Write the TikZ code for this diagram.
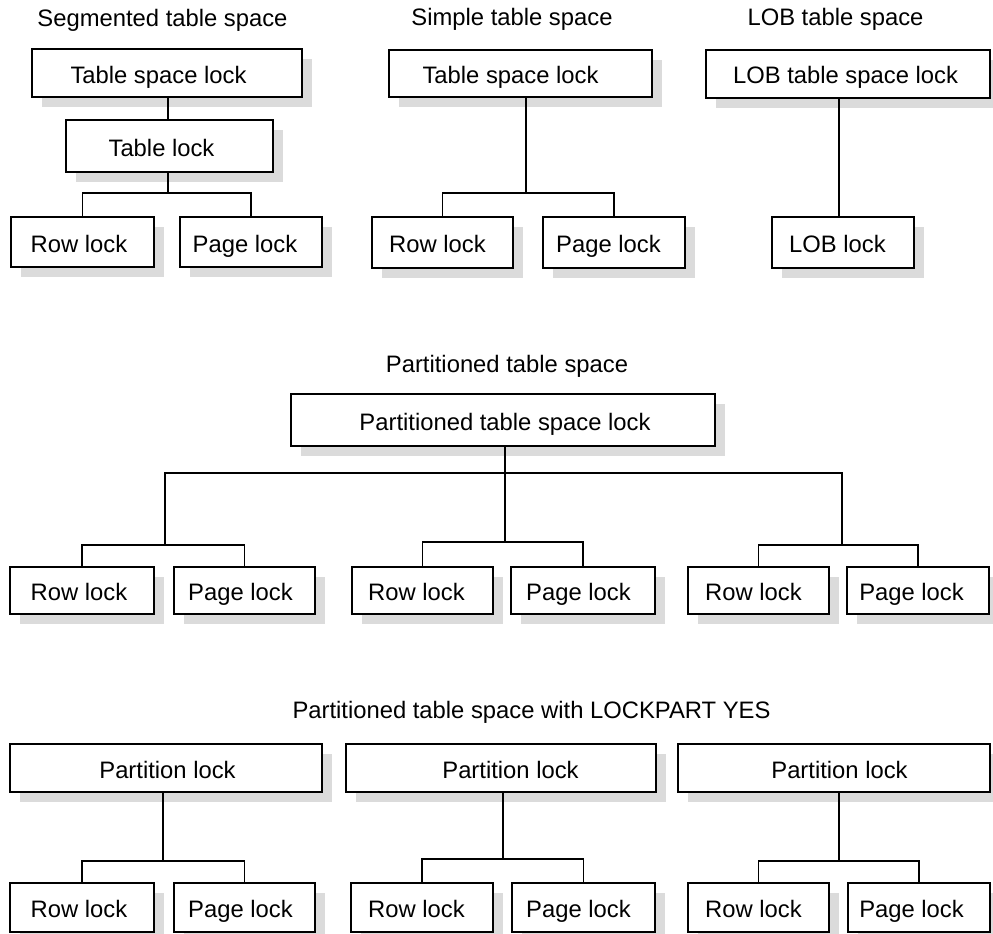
\documentclass[tikz,border=0pt]{standalone}
\usepackage{fontspec}
\setmainfont{Liberation Sans}
\usetikzlibrary{shadows}
\tikzset{
  lk/.style={draw, line width=1.2pt, fill=white, inner sep=0pt,
    drop shadow={shadow xshift=10pt, shadow yshift=-10pt, fill=black!14, opacity=1}},
  ln/.style={line width=1.2pt},
  ttl/.style={font=\fontsize{23.8}{28}\selectfont, anchor=base, inner sep=0pt},
  every label/.style={font=\fontsize{23.8}{28}\selectfont, inner sep=0pt, text height=25pt, text depth=5pt}
}
\newcommand\lockbox[7]{\node[lk, minimum width={(#4-#2)*1pt}, minimum height={(#5-#3)*1pt},
  label={[name=#1t, xshift=#6pt]center:#7}] (#1) at ({(#2+#4)/2},{(#3+#5)/2}) {};}
\begin{document}
\begin{tikzpicture}[x=1pt, y=-1pt]
\useasboundingbox[fill=white] (0,0) rectangle (993,934);
% titles
\node[ttl] (t1) at (162.5,27) {Segmented table space};
\node[ttl] (t2) at (512,26) {Simple table space};
\node[ttl] (t3) at (835.5,26) {LOB table space};
\node[ttl] (t4) at (507,372) {Partitioned table space};
\node[ttl] (t5) at (531.5,718) {Partitioned table space with LOCKPART YES};
% segmented
\lockbox{tsl1}{32}{49}{302}{97}{-8.5}{Table space lock}
\lockbox{tl1}{66}{120}{273}{172}{-8}{Table lock}
\lockbox{r1}{11}{217}{154}{267}{-3.5}{Row lock}
\lockbox{p1}{180}{217}{322}{267}{-6}{Page lock}
% simple
\lockbox{tsl2}{389}{50}{652}{97}{-10}{Table space lock}
\lockbox{r2}{372}{217}{513}{268}{-5}{Row lock}
\lockbox{p2}{543}{217}{685}{268}{-5.5}{Page lock}
% LOB
\lockbox{lobt}{706}{50}{990}{98}{-2.5}{LOB table space lock}
\lockbox{lobl}{772}{217}{914}{268}{-5.5}{LOB lock}
% partitioned
\lockbox{pts}{291}{394}{715}{446}{2}{Partitioned table space lock}
\lockbox{mr1}{10}{567}{154}{614}{-3}{Row lock}
\lockbox{mp1}{174}{567}{315}{614}{-4}{Page lock}
\lockbox{mr2}{352}{567}{493}{614}{-6}{Row lock}
\lockbox{mp2}{511}{567}{655}{614}{-4.5}{Page lock}
\lockbox{mr3}{688}{567}{829}{614}{-5}{Row lock}
\lockbox{mp3}{847}{567}{989}{614}{-6.5}{Page lock}
% lockpart
\lockbox{pl1}{10}{744}{322}{792}{1.5}{Partition lock}
\lockbox{pl2}{346}{744}{656}{792}{9.5}{Partition lock}
\lockbox{pl3}{678}{744}{990}{792}{5.5}{Partition lock}
\lockbox{br1}{10}{883}{154}{932}{-3}{Row lock}
\lockbox{bp1}{174}{883}{315}{932}{-4}{Page lock}
\lockbox{br2}{351}{883}{493}{932}{-5.5}{Row lock}
\lockbox{bp2}{512}{883}{655}{932}{-5}{Page lock}
\lockbox{br3}{688}{883}{829}{932}{-5}{Row lock}
\lockbox{bp3}{848}{883}{990}{932}{-7.5}{Page lock}
% connectors: segmented
\coordinate (s1) at (168,193);
\draw[ln] (tsl1.south -| s1) -- (tl1.north -| s1);
\draw[ln] (tl1.south -| s1) -- (s1);
\draw[ln] (r1.north) |- (s1) -| (p1.north);
% simple
\coordinate (s2) at (526,193);
\draw[ln] (tsl2.south -| s2) -- (s2);
\draw[ln] (r2.north) |- (s2) -| (p2.north);
% LOB
\coordinate (s3) at (839,217);
\draw[ln] (lobt.south -| s3) -- (lobl.north -| s3);
% partitioned
\coordinate (pa) at (505,473);
\coordinate (m1) at (165,545);
\coordinate (m2) at (505,542);
\coordinate (m3) at (842,545);
\draw[ln] (pts.south -| m2) -- (m2);
\draw[ln] (m1) -- (m1 |- pa) -- (m3 |- pa) -- (m3);
\draw[ln] (mr1.north) |- (m1) -| (mp1.north);
\draw[ln] (mr2.north) |- (m2) -| (mp2.north);
\draw[ln] (mr3.north) |- (m3) -| (mp3.north);
% lockpart
\coordinate (q1) at (163,861);
\coordinate (q2) at (503,859);
\coordinate (q3) at (839,861);
\draw[ln] (pl1.south -| q1) -- (q1);
\draw[ln] (pl2.south -| q2) -- (q2);
\draw[ln] (pl3.south -| q3) -- (q3);
\draw[ln] (br1.north) |- (q1) -| (bp1.north);
\draw[ln] (br2.north) |- (q2) -| (bp2.north);
\draw[ln] (br3.north) |- (q3) -| (bp3.north);
\end{tikzpicture}
\end{document}
